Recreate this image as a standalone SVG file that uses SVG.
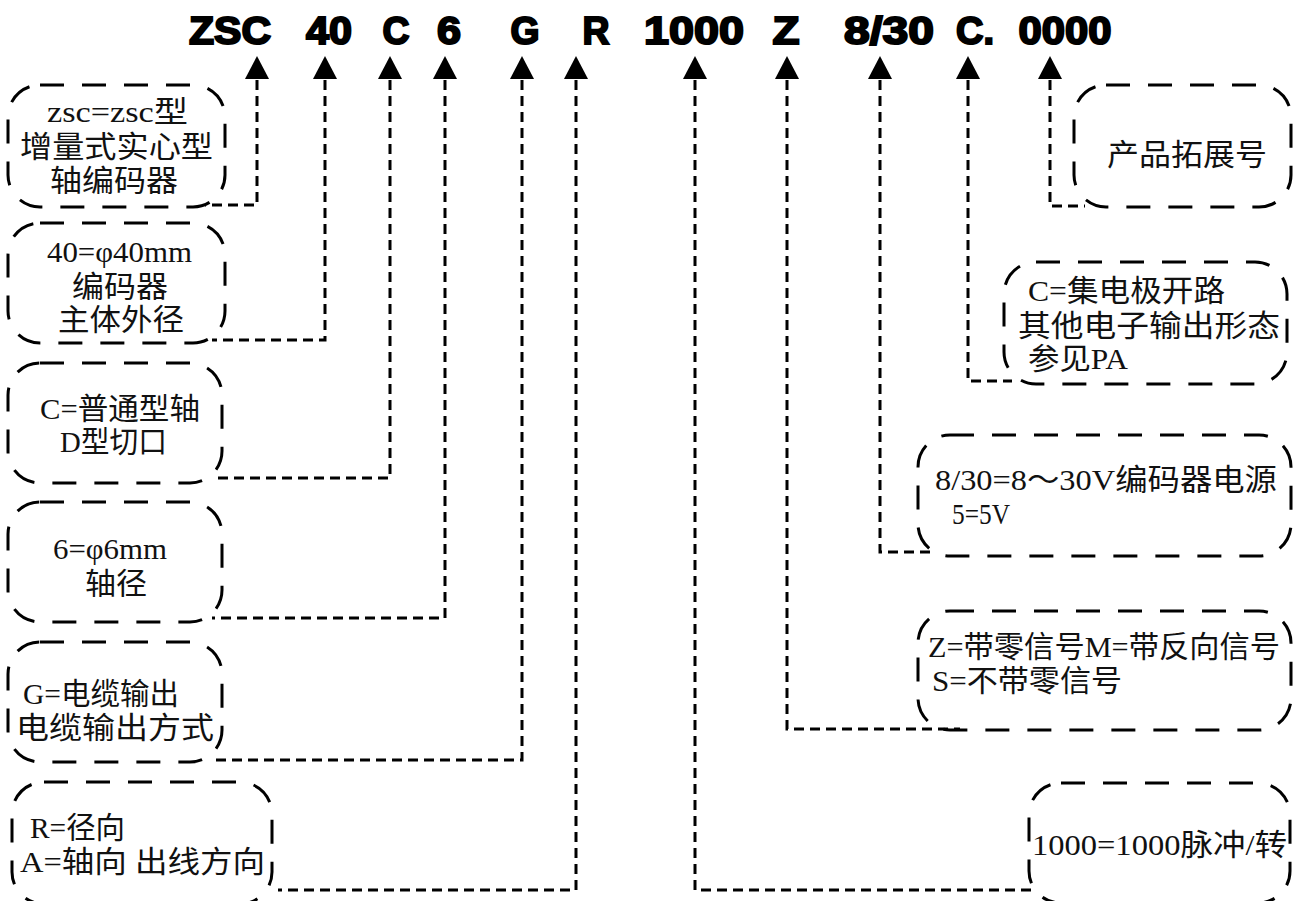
<svg xmlns="http://www.w3.org/2000/svg" width="1301" height="901" viewBox="0 0 1301 901">
<defs>
<style>
.title{font-family:"Liberation Sans",Arial,sans-serif;font-weight:bold;font-size:38px;fill:#000;stroke:#000;stroke-width:2px;text-anchor:middle}
.box{fill:none;stroke:#000;stroke-width:3;stroke-dasharray:24 18}
.conn{fill:none;stroke:#000;stroke-width:3;stroke-dasharray:10 6}
.t{font-family:"Liberation Serif","Noto Sans CJK SC",serif;font-size:30px;fill:#111}
</style>
<path id="arr" d="M-12,0 L12,0 L0,-23 z" fill="#000"/>
</defs>
<rect width="1301" height="901" fill="#fff"/>
<g id="title">
<text class="title" x="230" y="44" textLength="82" lengthAdjust="spacingAndGlyphs">ZSC</text>
<text class="title" x="329" y="44" textLength="46" lengthAdjust="spacingAndGlyphs">40</text>
<text class="title" x="396" y="44" textLength="27" lengthAdjust="spacingAndGlyphs">C</text>
<text class="title" x="449" y="44" textLength="24" lengthAdjust="spacingAndGlyphs">6</text>
<text class="title" x="525" y="44" textLength="29" lengthAdjust="spacingAndGlyphs">G</text>
<text class="title" x="596" y="44" textLength="27" lengthAdjust="spacingAndGlyphs">R</text>
<text class="title" x="694" y="44" textLength="100" lengthAdjust="spacingAndGlyphs">1000</text>
<text class="title" x="786" y="44" textLength="27" lengthAdjust="spacingAndGlyphs">Z</text>
<text class="title" x="889" y="44" textLength="90" lengthAdjust="spacingAndGlyphs">8/30</text>
<text class="title" x="975" y="44" textLength="38" lengthAdjust="spacingAndGlyphs">C.</text>
<text class="title" x="1065" y="44" textLength="93" lengthAdjust="spacingAndGlyphs">0000</text>
</g>
<g id="connectors">
<path class="conn" d="M257,80 V205 H205"/>
<path class="conn" d="M325,80 V340 H212"/>
<path class="conn" d="M390,80 V478 H212"/>
<path class="conn" d="M445,80 V618 H212"/>
<path class="conn" d="M522,80 V760 H212"/>
<path class="conn" d="M576,80 V890 H278"/>
<path class="conn" d="M695,80 V890 H1032"/>
<path class="conn" d="M787,80 V729 H960"/>
<path class="conn" d="M880,80 V552 H935"/>
<path class="conn" d="M968,80 V381 H1012"/>
<path class="conn" d="M1050,80 V206 H1085"/>
<use href="#arr" x="257" y="79"/>
<use href="#arr" x="325" y="79"/>
<use href="#arr" x="390" y="79"/>
<use href="#arr" x="445" y="79"/>
<use href="#arr" x="522" y="79"/>
<use href="#arr" x="576" y="79"/>
<use href="#arr" x="695" y="79"/>
<use href="#arr" x="787" y="79"/>
<use href="#arr" x="880" y="79"/>
<use href="#arr" x="968" y="79"/>
<use href="#arr" x="1050" y="79"/>
</g>
<g id="n-zsc">
<rect class="box" x="8" y="85" width="217" height="122" rx="32"/>
<text class="t" x="47" y="122" textLength="141" lengthAdjust="spacingAndGlyphs">zsc=zsc型</text>
<text class="t" x="20" y="157" textLength="193" lengthAdjust="spacingAndGlyphs">增量式实心型</text>
<text class="t" x="50" y="191" textLength="128" lengthAdjust="spacingAndGlyphs">轴编码器</text>
</g>
<g id="n-40">
<rect class="box" x="8" y="223" width="217" height="120" rx="32"/>
<text class="t" x="47" y="262" textLength="145" lengthAdjust="spacingAndGlyphs">40=φ40mm</text>
<text class="t" x="72" y="297" textLength="96" lengthAdjust="spacingAndGlyphs">编码器</text>
<text class="t" x="58" y="330" textLength="126" lengthAdjust="spacingAndGlyphs">主体外径</text>
</g>
<g id="n-c">
<rect class="box" x="8" y="363" width="214" height="120" rx="32"/>
<text class="t" x="40" y="419" textLength="160" lengthAdjust="spacingAndGlyphs">C=普通型轴</text>
<text class="t" x="60" y="452" textLength="107" lengthAdjust="spacingAndGlyphs">D型切口</text>
</g>
<g id="n-6">
<rect class="box" x="8" y="502" width="214" height="120" rx="32"/>
<text class="t" x="53" y="559" textLength="114" lengthAdjust="spacingAndGlyphs">6=φ6mm</text>
<text class="t" x="85" y="594" textLength="62" lengthAdjust="spacingAndGlyphs">轴径</text>
</g>
<g id="n-g">
<rect class="box" x="8" y="642" width="214" height="120" rx="32"/>
<text class="t" x="23" y="704" textLength="156" lengthAdjust="spacingAndGlyphs">G=电缆输出</text>
<text class="t" x="16" y="738" textLength="198" lengthAdjust="spacingAndGlyphs">电缆输出方式</text>
</g>
<g id="n-r">
<rect class="box" x="12" y="782" width="260" height="122" rx="32"/>
<text class="t" x="30" y="838" textLength="95" lengthAdjust="spacingAndGlyphs">R=径向</text>
<text class="t" x="20" y="872" textLength="245" lengthAdjust="spacingAndGlyphs">A=轴向 出线方向</text>
</g>
<g id="n-0000">
<rect class="box" x="1074" y="85" width="217" height="122" rx="32"/>
<text class="t" x="1107" y="165" textLength="160" lengthAdjust="spacingAndGlyphs">产品拓展号</text>
</g>
<g id="n-cout">
<rect class="box" x="1004" y="262" width="283" height="122" rx="32"/>
<text class="t" x="1028" y="301" textLength="197" lengthAdjust="spacingAndGlyphs">C=集电极开路</text>
<text class="t" x="1018" y="336" textLength="262" lengthAdjust="spacingAndGlyphs">其他电子输出形态</text>
<text class="t" x="1028" y="369" textLength="100" lengthAdjust="spacingAndGlyphs">参见PA</text>
</g>
<g id="n-830">
<rect class="box" x="918" y="435" width="373" height="121" rx="32"/>
<text class="t" x="935" y="490" textLength="342" lengthAdjust="spacingAndGlyphs">8/30=8～30V编码器电源</text>
<text class="t" x="952" y="524" textLength="58" lengthAdjust="spacingAndGlyphs">5=5V</text>
</g>
<g id="n-z">
<rect class="box" x="918" y="611" width="373" height="119" rx="32"/>
<text class="t" x="928" y="657" textLength="352" lengthAdjust="spacingAndGlyphs">Z=带零信号M=带反向信号</text>
<text class="t" x="932" y="691" textLength="190" lengthAdjust="spacingAndGlyphs">S=不带零信号</text>
</g>
<g id="n-1000">
<rect class="box" x="1029" y="783" width="261" height="120" rx="32"/>
<text class="t" x="1032" y="855" textLength="255" lengthAdjust="spacingAndGlyphs">1000=1000脉冲/转</text>
</g>
</svg>
